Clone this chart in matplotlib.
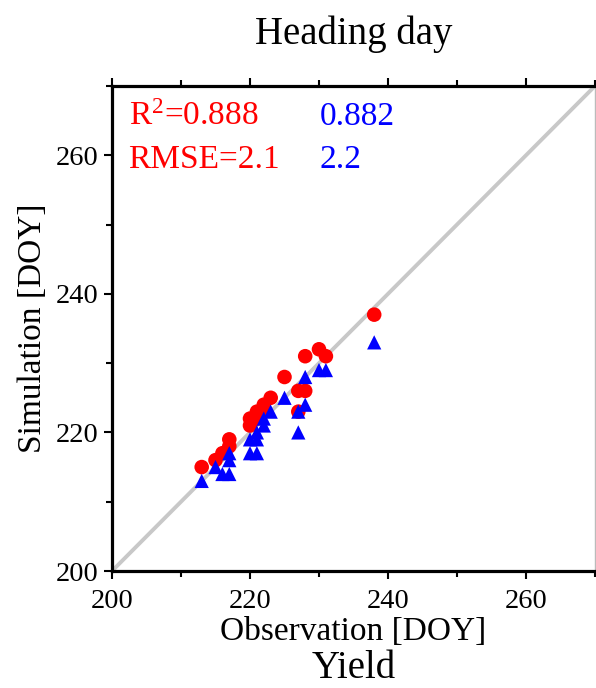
import matplotlib
matplotlib.use("Agg")
import matplotlib.pyplot as plt
from matplotlib.ticker import MultipleLocator

plt.rcParams['font.family'] = ['Liberation Serif', 'DejaVu Serif']
plt.rcParams['mathtext.fontset'] = 'custom'
plt.rcParams['mathtext.rm'] = 'Liberation Serif'
plt.rcParams['mathtext.it'] = 'Liberation Serif:italic'

title = "Heading day"
xlabel = "Observation [DOY]"
ylabel = "Simulation [DOY]"
sublabel = "Yield"
axis_min, axis_max = 200, 270
ticks = [200, 220, 240, 260]

red_obs = [238, 230, 231, 228, 225, 227, 228, 227, 223, 222, 221, 220, 220, 217, 217, 216, 215, 213, 221, 222]
red_sim = [237, 232, 231, 231, 228, 226, 226, 223, 225, 224, 223, 222, 221, 219, 218, 217, 216, 215, 222, 223]

blue_obs = [238, 230, 231, 228, 225, 228, 227, 227, 223, 222, 222, 221, 221, 220, 220, 221, 217, 217, 215, 216, 217, 213]
blue_sim = [233, 229, 229, 228, 225, 224, 223, 220, 223, 222, 221, 220, 219, 219, 217, 217, 217, 216, 215, 214, 214, 213]

red_r2, red_rmse = "0.888", "2.1"
blue_r2, blue_rmse = "0.882", "2.2"

fig = plt.figure(figsize=(5.96, 6.88), dpi=100)
ax = fig.add_axes([112/596, (688-571)/688, (595-112)/596, (571-86)/688])

ax.plot([axis_min, axis_max], [axis_min, axis_max], color='#c8c8c8', lw=2.8, zorder=1)
ax.scatter(red_obs, red_sim, marker='o', s=110, color='#ff0000', edgecolors='none', zorder=3)
ax.scatter(blue_obs, blue_sim, marker='^', s=105, color='#0000ff', edgecolors='none', zorder=4)

ax.set_xlim(axis_min, axis_max)
ax.set_ylim(axis_min, axis_max)
ax.set_xticks(ticks)
ax.set_yticks(ticks)
ax.xaxis.set_minor_locator(MultipleLocator(10))
ax.yaxis.set_minor_locator(MultipleLocator(10))
ax.tick_params(which='both', direction='out', top=True, right=False, width=1.5, labelsize=20.5)
ax.tick_params(which='major', length=6)
ax.tick_params(which='minor', length=4)
ax.tick_params(axis='x', pad=7)
for s in ['left', 'bottom', 'top']:
    ax.spines[s].set_linewidth(2.3)
ax.spines['right'].set_linewidth(1.0)
ax.spines['right'].set_color('#bbbbbb')

ax.set_xlabel(xlabel, fontsize=24, labelpad=2)
ax.set_ylabel(ylabel, fontsize=24, labelpad=6)
ax.set_title(title, fontsize=28, pad=30)
fig.text((112 + 595) / 2 / 596, 1 - 668/688, sublabel, fontsize=28, ha='center', va='center')

ax.text(202.4, 264.4, "R$^2$=" + red_r2, color='#ff0000', fontsize=24, va='baseline', ha='left')
ax.text(202.4, 258.2, "RMSE=" + red_rmse, color='#ff0000', fontsize=24, va='baseline', ha='left')
ax.text(230.1, 264.4, blue_r2, color='#0000ff', fontsize=24, va='baseline', ha='left')
ax.text(230.1, 258.2, blue_rmse, color='#0000ff', fontsize=24, va='baseline', ha='left')

fig.savefig("out.png", dpi=100)
